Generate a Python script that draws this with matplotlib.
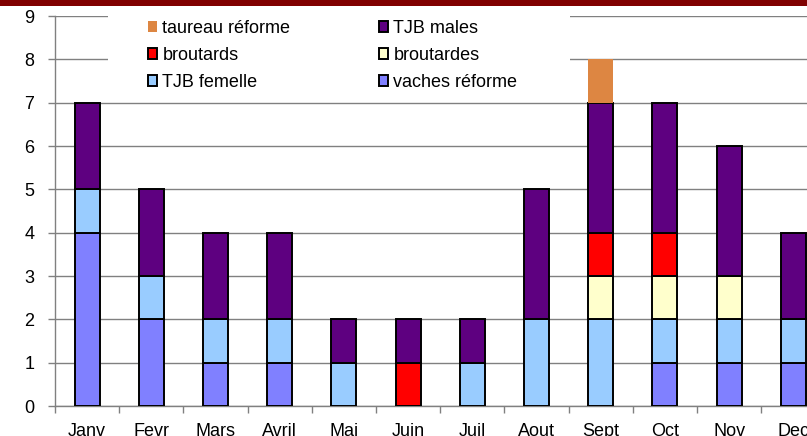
"""Stacked monthly bar chart of cattle sales by category."""

import numpy as np
import matplotlib
matplotlib.use("Agg")
from matplotlib import pyplot as plt
from matplotlib.patches import Patch, Rectangle

plt.rcParams["font.family"] = ["Liberation Sans", "DejaVu Sans"]

months = ["Janv", "Fevr", "Mars", "Avril", "Mai", "Juin",
          "Juil", "Aout", "Sept", "Oct", "Nov", "Dec"]
vaches_reforme = [4, 2, 1, 1, 0, 0, 0, 0, 0, 1, 1, 1]
tjb_femelle = [1, 1, 1, 1, 1, 0, 1, 2, 2, 1, 1, 1]
broutardes = [0, 0, 0, 0, 0, 0, 0, 0, 1, 1, 1, 0]
broutards = [0, 0, 0, 0, 0, 1, 0, 0, 1, 1, 0, 0]
tjb_males = [2, 2, 2, 2, 1, 1, 1, 3, 3, 3, 3, 2]
taureau_reforme = [0, 0, 0, 0, 0, 0, 0, 0, 1, 0, 0, 0]

series = [
    ("vaches réforme", vaches_reforme, "#8080FF", "black"),
    ("TJB femelle", tjb_femelle, "#99CCFF", "black"),
    ("broutardes", broutardes, "#FFFFCC", "black"),
    ("broutards", broutards, "#FF0000", "black"),
    ("TJB males", tjb_males, "#5E0080", "black"),
    ("taureau réforme", taureau_reforme, "#DD8642", "none"),
]

W, H = 807, 436
fig = plt.figure(figsize=(W / 100, H / 100), dpi=100)
ax = fig.add_axes([55 / W, 30 / H, 770.5 / W, 390 / H])

x = np.arange(len(months))
bottom = np.zeros(len(months))
for name, vals, color, edge in series:
    vals = np.asarray(vals, dtype=float)
    keep = vals > 0
    ax.bar(x[keep], vals[keep], bottom=bottom[keep], width=0.39,
           color=color, edgecolor=edge, linewidth=1.4, zorder=3)
    bottom += vals

ax.set_xlim(-0.5, len(months) - 0.5)
ax.set_ylim(0, 9)
ax.set_yticks(range(10))
ax.set_xticks(x)
ax.set_xticklabels(months)
ax.set_xticks(np.arange(-0.5, len(months)), minor=True)
ax.tick_params(axis="x", which="major", length=0, pad=12, labelsize=13)
ax.tick_params(axis="x", which="minor", length=5, width=1, color="#808080")
ax.tick_params(axis="y", length=5, width=1, color="#808080", pad=10,
               labelsize=13)
ax.yaxis.grid(True, color="#808080", linewidth=1)
ax.set_axisbelow(True)
for side in ("top", "right"):
    ax.spines[side].set_visible(False)
for side in ("left", "bottom"):
    ax.spines[side].set_color("#808080")
    ax.spines[side].set_linewidth(1)

# white area behind the legend hides the gridlines
fig.patches.append(Rectangle((108 / W, 1 - 96 / H), 462 / W, 86 / H,
                             transform=fig.transFigure, facecolor="white",
                             edgecolor="none", zorder=1))
handles = {name: Patch(facecolor=color, edgecolor=edge, linewidth=1.4)
           for name, _, color, edge in series}
order = ["taureau réforme", "broutards", "TJB femelle",
         "TJB males", "broutardes", "vaches réforme"]
leg = fig.legend([handles[n] for n in order], order, ncol=2,
                 loc="upper left", bbox_to_anchor=(148 / W, 1 - 20 / H),
                 frameon=False, fontsize=13, handlelength=0.5,
                 handleheight=0.5, handletextpad=0.3, labelspacing=0.55,
                 columnspacing=4.9, borderpad=0, borderaxespad=0)
leg.set_zorder(5)

# dark red band along the top edge
fig.patches.append(Rectangle((0, 1 - 6 / H), 1, 6 / H,
                             transform=fig.transFigure, facecolor="#800000",
                             edgecolor="none", zorder=6))

fig.savefig("out.png", dpi=100)
